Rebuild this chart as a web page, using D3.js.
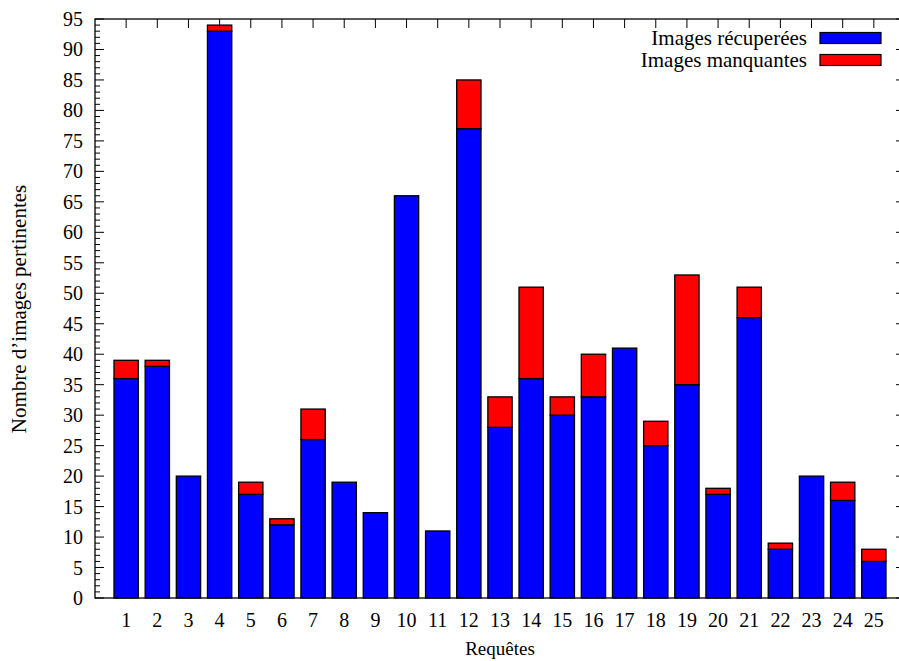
<!DOCTYPE html>
<html>
<head>
<meta charset="utf-8">
<script src="https://cdn.jsdelivr.net/npm/d3@7"></script>
<style>
  body { margin: 0; background: #fff; }
  svg { display: block; font-family: "Liberation Serif", "Times New Roman", serif; }
</style>
</head>
<body>
<svg width="899" height="661"></svg>
<script>
// donnees
var requetes = d3.range(1, 26);
var recuperees = [36, 38, 20, 93, 17, 12, 26, 19, 14, 66, 11, 77, 28, 36, 30, 33, 41, 25, 35, 17, 46, 8, 20, 16, 6];
var manquantes = [3, 1, 0, 1, 2, 1, 5, 0, 0, 0, 0, 8, 5, 15, 3, 7, 0, 4, 18, 1, 5, 1, 0, 3, 2];
var yTicks = d3.range(0, 96, 5);
var series = ["Images récuperées", "Images manquantes"];
var couleurs = ["#0000ff", "#ff0000"];

var svg = d3.select("svg"),
  gauche = 95, droite = 905, haut = 19, bas = 598;

var x = d3.scaleLinear().domain([0, 26]).range([gauche, droite]);
var y = d3.scaleLinear().domain([0, 95]).range([bas, haut]);
var largeur = (x(1) - x(0)) * 0.78;

// barres empilees
var table = requetes.map(function(r, i) {
  return { r: r, recup: recuperees[i], manq: manquantes[i] };
});
var stack = d3.stack().keys(["recup", "manq"])(table);

var barres = svg.append("g").attr("class", "barres");
stack.forEach(function(couche, k) {
  barres.selectAll(null)
    .data(couche)
    .enter().append("rect")
    .attr("x", function(d) { return x(d.data.r) - largeur / 2; })
    .attr("y", function(d) { return y(d[1]); })
    .attr("width", largeur)
    .attr("height", function(d) { return y(d[0]) - y(d[1]); })
    .attr("fill", couleurs[k])
    .attr("stroke", "#000")
    .attr("stroke-width", 1.3);
});

// axes
var ax = svg.append("g").attr("class", "axes");
ax.append("rect")
  .attr("x", gauche).attr("y", haut)
  .attr("width", droite - gauche).attr("height", bas - haut)
  .attr("fill", "none").attr("stroke", "#000").attr("stroke-width", 1.3);

// petites graduations a gauche
d3.range(0, 96).forEach(function(v) {
  var long = v % 5 === 0 ? 9 : 5;
  ax.append("line")
    .attr("x1", gauche).attr("x2", gauche + long)
    .attr("y1", y(v)).attr("y2", y(v))
    .attr("stroke", "#000").attr("stroke-width", 1);
});
yTicks.forEach(function(v) {
  ax.append("line")
    .attr("x1", droite).attr("x2", droite - 9)
    .attr("y1", y(v)).attr("y2", y(v))
    .attr("stroke", "#000").attr("stroke-width", 1);
  ax.append("text")
    .attr("x", gauche - 12).attr("y", y(v))
    .attr("dy", "0.35em")
    .attr("text-anchor", "end")
    .attr("font-size", 20)
    .text(v);
});

requetes.forEach(function(r) {
  ax.append("line")
    .attr("x1", x(r)).attr("x2", x(r))
    .attr("y1", haut).attr("y2", haut + 9)
    .attr("stroke", "#000").attr("stroke-width", 1);
  ax.append("text")
    .attr("x", x(r)).attr("y", bas + 29)
    .attr("text-anchor", "middle")
    .attr("font-size", 20)
    .text(r);
});

// titres des axes
svg.append("text")
  .attr("x", (gauche + droite) / 2).attr("y", 655)
  .attr("text-anchor", "middle")
  .attr("font-size", 19)
  .text("Requêtes");

svg.append("text")
  .attr("transform", "translate(26," + 309 + ") rotate(-90)")
  .attr("text-anchor", "middle")
  .attr("font-size", 21)
  .text("Nombre d\u2019images pertinentes");

// legende
var legende = svg.append("g").attr("class", "legende");
series.forEach(function(s, i) {
  var yy = 38 + i * 22;
  legende.append("text")
    .attr("x", 807).attr("y", yy)
    .attr("dy", "0.35em")
    .attr("text-anchor", "end")
    .attr("font-size", 21)
    .text(s);
  legende.append("rect")
    .attr("x", 820).attr("y", yy - 5.5)
    .attr("width", 61).attr("height", 11)
    .attr("fill", couleurs[i])
    .attr("stroke", "#000").attr("stroke-width", 1.2);
});
</script>
</body>
</html>
